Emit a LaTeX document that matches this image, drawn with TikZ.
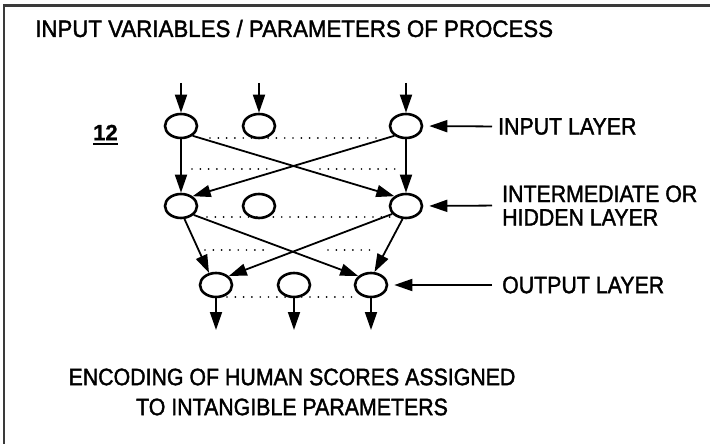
\documentclass[tikz,border=0pt]{standalone}
\usepackage{fontspec}
\setmainfont{Liberation Sans}[FakeStretch=0.9,FakeBold=1.6]
\newfontfamily\titlefont{Liberation Sans}[FakeStretch=0.94,FakeBold=1.6]
\newfontfamily\numfont{Liberation Sans Bold}[FakeBold=1.2]
\usetikzlibrary{arrows.meta,shapes.geometric}
\definecolor{framecol}{HTML}{3A3A3A}
\begin{document}
\begin{tikzpicture}[x=1pt,y=-1pt,
  neuron/.style={ellipse,draw,line width=2.6pt,minimum width=32pt,minimum height=24pt,inner sep=0pt},
  arr/.style={line width=1.8pt,-{Triangle[length=18pt,width=12pt]}},
  dots/.style={line width=1.9pt,line cap=round,dash pattern=on 0pt off 8.3pt},
  lbl/.style={inner sep=0pt,font=\fontsize{23.7}{23.5}\selectfont,align=left}]
\useasboundingbox (0,0) rectangle (710,444);
% frame
\draw[framecol,line width=2.2pt] (4.2,444) -- (4.2,5.5) -- (710,5.5);
% neurons
\node[neuron] (i1) at (181,126) {};
\node[neuron] (i2) at (259,126) {};
\node[neuron] (i3) at (406,126) {};
\node[neuron] (h1) at (181,206) {};
\node[neuron] (h2) at (259,206) {};
\node[neuron] (h3) at (406,206) {};
\node[neuron] (o1) at (216,285) {};
\node[neuron] (o2) at (294,285) {};
\node[neuron] (o3) at (371,285) {};
% texts
\node[lbl,anchor=west,font=\fontsize{23.7}{23.5}\selectfont\titlefont] (title) at (35,28.5) {INPUT VARIABLES / PARAMETERS OF PROCESS};
\node[lbl,anchor=west,font=\fontsize{22}{22}\selectfont\numfont] (num) at (93,132.5) {12};
\draw[line width=2.4pt] ([yshift=-3.5pt]num.south west) -- ([yshift=-3.5pt]num.south east);
\node[lbl,anchor=west] (linput) at (498,126.5) {INPUT LAYER};
\node[lbl,anchor=west] (lhidden) at (502,205.5) {INTERMEDIATE OR\\HIDDEN LAYER};
\node[lbl,anchor=west] (loutput) at (502,285) {OUTPUT LAYER};
\node[lbl,align=center,font=\fontsize{23.7}{30}\selectfont] (enc) at (292,392) {ENCODING OF HUMAN SCORES ASSIGNED\\TO INTANGIBLE PARAMETERS};
% input arrows
\coordinate (t1) at (181,83);
\coordinate (t2) at (259,83);
\coordinate (t3) at (406,83);
\draw[arr] (t1) -- (i1);
\draw[arr] (t2) -- (i2);
\draw[arr] (t3) -- (i3);
% input to hidden
\draw[arr] (i1) -- (h1);
\draw[arr] (i3) -- (h3);
\draw[arr] (i1.-40) -- (h3.140);
\draw[arr] (i3.220) -- (h1.40);
% hidden to output
\draw[arr] (h1.-75) -- (o1.120);
\draw[arr] (h1.-35) -- (o3.145);
\draw[arr] (h3.210) -- (o1.35);
\draw[arr] (h3.-105) -- (o3.75);
% output arrows
\coordinate (b1) at (216,330);
\coordinate (b2) at (294,330);
\coordinate (b3) at (371,330);
\draw[arr] (o1) -- (b1);
\draw[arr] (o2) -- (b2);
\draw[arr] (o3) -- (b3);
% label arrows
\draw[arr,shorten <=6pt,shorten >=6pt] (linput.west) -- (i3.east);
\draw[arr,shorten <=10pt,shorten >=6pt] (lhidden.west) -- (h3.east);
\draw[arr,shorten <=10pt,shorten >=6pt] (loutput.west) -- (o3.east);
% dotted lines
\draw[dots] (210,138) -- (383,138);
\draw[dots] (192,169) -- (267,169);
\draw[dots] (320,169) -- (400,169);
\draw[dots] (207,217) -- (390,217);
\draw[dots] (205,250) -- (265,250);
\draw[dots] (328,250) -- (377,250);
\draw[dots] (227,297) -- (352,297);
\end{tikzpicture}
\end{document}
